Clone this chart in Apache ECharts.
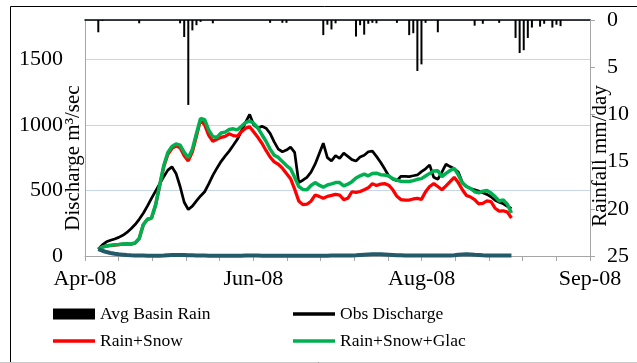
<!DOCTYPE html>
<html>
<head>
<meta charset="utf-8">
<script src="https://cdn.jsdelivr.net/npm/echarts@6/dist/echarts.min.js"></script>
<style>
  html, body { margin: 0; padding: 0; background: #fff; }
  #chart { width: 637px; height: 363px; }
</style>
</head>
<body>
<div id="chart"></div>
<script>
// Month labels on the bottom axis
const monthLabels = ['Apr-08', 'Jun-08', 'Aug-08', 'Sep-08'];

// Daily basin rainfall (day index, mm/day)
const rainDays = [0, 1, 10, 20, 21, 22, 23, 24, 25, 28, 42, 45, 46, 55, 56, 57, 58, 63, 64, 65,
  66, 67, 68, 73, 76, 77, 78, 79, 80, 83, 92, 94, 98, 102, 103, 104, 105, 106, 108, 109,
  111, 112, 113];
const rainMm = [1.3, 0.1, 0.35, 0.35, 1.8, 9.0, 1.1, 0.55, 0.2, 0.35, 0.3, 0.3, 0.3, 1.6, 0.5, 1.0, 0.35, 1.75, 0.55, 1.55,
  0.4, 0.3, 0.35, 0.3, 1.6, 1.4, 5.4, 4.7, 0.3, 1.3, 0.6, 0.4, 0.3, 1.9, 3.5, 3.2, 1.9, 0.8, 0.7, 0.4,
  0.8, 0.5, 0.65];

// Daily discharge (m3/sec), day 0 onwards
const obsFlow = [52, 85, 108, 120, 130, 142, 158, 180, 208, 240,
  280, 326, 380, 440, 495, 550, 605, 655, 680, 630,
  530, 410, 355, 380, 420, 458, 490, 550, 615, 670,
  720, 762, 800, 845, 890, 955, 1020, 1080, 1000, 975,
  990, 975, 935, 870, 815, 795, 808, 830, 790, 560,
  578, 600, 640, 700, 780, 860, 750, 725, 765, 745,
  784, 760, 735, 725, 755, 768, 795, 800, 760, 715,
  665, 610, 585, 575, 608, 608, 606, 612, 618, 643,
  665, 695, 600, 585, 640, 700, 682, 665, 640, 560,
  530, 515, 505, 495, 483, 470, 452, 425, 410, 398,
  378, 362];

const rainSnowFlow = [52, 68, 76, 80, 83, 86, 90, 91, 90, 98,
  132, 238, 278, 288, 385, 535, 680, 775, 820, 840,
  825, 765, 725, 795, 915, 1040, 1000, 920, 875, 890,
  905, 912, 932, 918, 915, 948, 975, 985, 945, 905,
  860, 805, 755, 718, 700, 670, 630, 590, 510, 420,
  392, 395, 418, 465, 455, 440, 455, 462, 470, 465,
  430, 440, 490, 485, 492, 505, 520, 552, 538, 548,
  552, 540, 505, 455, 430, 427, 427, 435, 440, 432,
  490, 530, 552, 530, 505, 535, 567, 600, 560, 505,
  462, 450, 430, 398, 402, 420, 415, 364, 342, 345,
  335, 290];

const rainSnowGlacFlow = [52, 68, 76, 82, 85, 88, 92, 93, 92, 100,
  135, 240, 280, 290, 390, 540, 690, 790, 835, 855,
  845, 790, 750, 815, 935, 1050, 1040, 960, 910, 905,
  938, 945, 965, 970, 962, 990, 1018, 1030, 1012, 978,
  925, 875, 815, 768, 752, 720, 690, 665, 600, 530,
  508, 505, 538, 560, 540, 525, 542, 550, 560, 560,
  535, 548, 567, 595, 612, 625, 612, 630, 632, 620,
  618, 610, 590, 578, 570, 568, 568, 575, 585, 590,
  610, 630, 648, 650, 605, 630, 652, 668, 620, 555,
  530, 515, 490, 482, 494, 500, 480, 453, 420, 427,
  395, 328];

const lowFlow = [52, 40, 30, 23, 17, 13, 10, 7, 5, 4,
  3, 3, 2, 2, 2, 2, 3, 5, 7, 8,
  8, 7, 6, 5, 4, 3, 3, 2, 2, 2,
  2, 2, 2, 2, 2, 2, 3, 3, 3, 3,
  2, 2, 2, 2, 2, 2, 2, 2, 2, 2,
  2, 2, 2, 2, 2, 2, 2, 3, 3, 3,
  3, 3, 4, 5, 7, 9, 11, 13, 14, 14,
  12, 10, 8, 6, 5, 4, 3, 3, 3, 3,
  3, 3, 3, 3, 3, 3, 4, 6, 9, 12,
  13, 12, 9, 7, 5, 4, 3, 3, 3, 3,
  3, 3];

const serif = "'Liberation Serif', 'Times New Roman', serif";
const axisGray = '#a6a6a6';

const byDay = arr => arr.map((v, i) => [i, v]);

const chart = echarts.init(document.getElementById('chart'), null, { renderer: 'canvas' });

function lineSeries(name, values, color, width) {
  return {
    type: 'line', name: name, xAxisIndex: 1, yAxisIndex: 0,
    data: byDay(values), symbol: 'none', showSymbol: false,
    lineStyle: { color: color, width: width },
    itemStyle: { color: color }
  };
}

function legendAt(name, left, top, iconHeight, color) {
  return {
    data: [{ name: name, icon: 'rect' }], left: left, top: top, padding: 0,
    itemWidth: 42, itemHeight: iconHeight, selectedMode: false,
    itemStyle: { color: color, borderWidth: 0, decal: 'none' },
    lineStyle: { width: 0 },
    textStyle: { fontFamily: serif, fontSize: 17.5, color: '#000', lineHeight: 18 }
  };
}

chart.setOption({
  animation: false,
  backgroundColor: '#fff',
  grid: { left: 85, right: 47, top: 20, bottom: 107, outerBoundsMode: 'none' },
  legend: [
    legendAt('Avg Basin Rain', 53, 305, 11, '#000000'),
    legendAt('Obs Discharge', 293, 305, 3.5, '#000000'),
    legendAt('Rain+Snow', 53, 332, 3.5, '#ff0000'),
    legendAt('Rain+Snow+Glac', 293, 332, 3.5, '#00b050')
  ],
  xAxis: [
    {
      type: 'value', position: 'bottom', min: 0, max: 150, interval: 50,
      axisLine: { onZero: false, lineStyle: { color: axisGray, width: 1 } },
      axisTick: { show: true, length: 5, lineStyle: { color: axisGray } },
      minorTick: { show: true, splitNumber: 5, length: 5, lineStyle: { color: axisGray } },
      splitLine: { show: false },
      axisLabel: {
        formatter: v => monthLabels[Math.round(v / 50)],
        fontFamily: serif, fontSize: 22, color: '#000', margin: 12
      }
    },
    {
      type: 'value', position: 'top', min: -3.25, max: 120.2,
      axisLine: { show: true, onZero: false, lineStyle: { color: '#000', width: 1.5 } },
      axisTick: { show: false }, axisLabel: { show: false }, splitLine: { show: false }
    }
  ],
  yAxis: [
    {
      type: 'value', position: 'left', min: 0, max: 1800, interval: 500,
      axisLine: { show: true, onZero: false, lineStyle: { color: axisGray } },
      axisTick: { show: false },
      splitLine: { show: true, lineStyle: { color: '#c5d6ec', width: 1 } },
      axisLabel: {
        showMaxLabel: false, formatter: v => String(v),
        fontFamily: serif, fontSize: 22, color: '#000', margin: 22
      }
    },
    {
      type: 'value', position: 'right', inverse: true, min: 0, max: 25, interval: 5,
      axisLine: { show: true, onZero: false, lineStyle: { color: axisGray } },
      axisTick: { show: true, length: 5, lineStyle: { color: axisGray } },
      splitLine: { show: false },
      axisLabel: {
        formatter: v => String(v),
        fontFamily: serif, fontSize: 22, color: '#000', margin: 17, align: 'left'
      }
    }
  ],
  series: [
    {
      type: 'bar', name: 'Avg Basin Rain', xAxisIndex: 1, yAxisIndex: 1,
      data: rainDays.map((d, i) => [d, rainMm[i]]),
      barWidth: 2, itemStyle: { color: '#000' }
    },
    lineSeries('Obs Discharge', obsFlow, '#000000', 2.75),
    lineSeries('Rain+Snow', rainSnowFlow, '#ff0000', 3.25),
    lineSeries('Rain+Snow+Glac', rainSnowGlacFlow, '#00b050', 3.5),
    lineSeries('', lowFlow, '#245a69', 4)
  ],
  graphic: [
    {
      type: 'rect', silent: true, z: 100,
      shape: { x: 10.5, y: 6.5, width: 640, height: 356 },
      style: { fill: 'none', stroke: '#000', lineWidth: 1 }
    },
    {
      type: 'line', silent: true, z: 101,
      shape: { x1: 0, y1: 362.5, x2: 637, y2: 362.5 },
      style: { stroke: '#c8c8c8', lineWidth: 1 }
    },
    {
      type: 'text', silent: true, x: 73.5, y: 158, rotation: Math.PI / 2,
      style: {
        text: 'Discharge m³/sec', fontFamily: serif, fontSize: 21, fill: '#000',
        align: 'center', verticalAlign: 'middle'
      }
    },
    {
      type: 'text', silent: true, x: 600, y: 156, rotation: Math.PI / 2,
      style: {
        text: 'Rainfall mm/day', fontFamily: serif, fontSize: 21, fill: '#000',
        align: 'center', verticalAlign: 'middle'
      }
    }
  ]
});
</script>
</body>
</html>
